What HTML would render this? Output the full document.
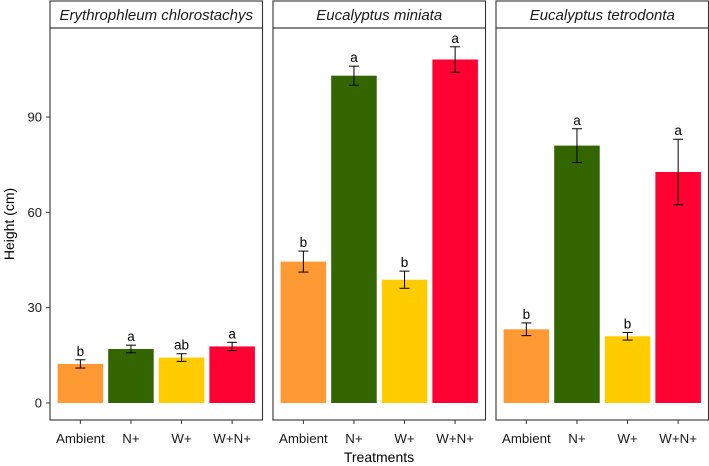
<!DOCTYPE html>
<html><head><meta charset="utf-8">
<style>
html,body{margin:0;padding:0;background:#fff;}
svg{display:block;font-family:"Liberation Sans",Arial,sans-serif;}
</style></head>
<body>
<svg id="chart" width="709" height="466" viewBox="0 0 709 466"></svg>
<script>
const species = ["Erythrophleum chlorostachys","Eucalyptus miniata","Eucalyptus tetrodonta"];
const treatments = ["Ambient","N+","W+","W+N+"];
const colors = ["#FF9933","#336600","#FFCC00","#FF0033"];
const heights = [[12.3,17.0,14.3,17.8],[44.5,103.0,38.8,108.1],[23.2,81.0,21.0,72.7]];
const errors = [[1.3,1.2,1.2,1.3],[3.3,3.0,2.7,4.0],[2.0,5.3,1.2,10.3]];
const letters = [["b","a","ab","a"],["b","a","b","a"],["b","a","b","a"]];
const yTicks = [0,30,60,90];

const NS="http://www.w3.org/2000/svg";
const svg=document.getElementById('chart');
function mk(tag,attrs,parent){const e=document.createElementNS(NS,tag);for(const k in attrs)e.setAttribute(k,attrs[k]);(parent||svg).appendChild(e);return e;}
const panelLefts=[50,273,496], panelW=212.5, plotTop=28, plotBot=420, stripTop=1;
const y0=403, pxPerUnit=(403-117)/90;
function yScale(v){return y0-v*pxPerUnit;}
function xScale(p,i){const u=panelW/4.2;return panelLefts[p]+(0.6+i)*u;}
const barW=0.9*panelW/4.2;

species.forEach((sp,p)=>{
  const L=panelLefts[p];
  const g=mk('g',{});
  
  
  const strip=mk('rect',{x:L,y:stripTop,width:panelW,height:plotTop-stripTop,fill:'#fff',stroke:'#333','stroke-width':1.1},g);
  
  
  const st=mk('text',{x:L+panelW/2,y:20,'text-anchor':'middle','font-size':15,'font-style':'italic',fill:'#1a1a1a'},g);
  st.textContent=sp;
  
  
  treatments.forEach((t,i)=>{
    const cx=xScale(p,i), v=heights[p][i], e=errors[p][i];
    const b=mk('rect',{x:cx-barW/2,y:yScale(v),width:barW,height:yScale(0)-yScale(v),fill:colors[i]},g);
    
    
    const eg=mk('g',{stroke:'#000','stroke-width':1},g);
    
    
    mk('line',{x1:cx,x2:cx,y1:yScale(v+e),y2:yScale(v-e)},eg);
    mk('line',{x1:cx-5,x2:cx+5,y1:yScale(v+e),y2:yScale(v+e)},eg);
    mk('line',{x1:cx-5,x2:cx+5,y1:yScale(v-e),y2:yScale(v-e)},eg);
    const lt=mk('text',{x:cx,y:yScale(v+e)-4,'text-anchor':'middle','font-size':13.5,fill:'#000'},g);
    lt.textContent=letters[p][i];
    
    
    mk('line',{x1:cx,x2:cx,y1:plotBot,y2:plotBot+4,stroke:'#333','stroke-width':1},g);
    const xt=mk('text',{x:cx,y:443,'text-anchor':'middle','font-size':13.3,fill:'#1a1a1a'},g);
    xt.textContent=t;
    
    
  });
  const fr=mk('rect',{x:L,y:plotTop,width:panelW,height:plotBot-plotTop,fill:'none',stroke:'#333','stroke-width':1.1},g);
  
  
});
yTicks.forEach(v=>{
  mk('line',{x1:46,x2:50,y1:yScale(v),y2:yScale(v),stroke:'#333','stroke-width':1});
  const t=mk('text',{x:42,y:yScale(v)+4.5,'text-anchor':'end','font-size':13,fill:'#1a1a1a'});
  t.textContent=v;
  
  
});
const yt=mk('text',{x:0,y:0,transform:'translate(14,224) rotate(-90)','text-anchor':'middle','font-size':14,fill:'#000'});
yt.textContent='Height (cm)';


const xtl=mk('text',{x:379,y:462,'text-anchor':'middle','font-size':14,fill:'#000'});
xtl.textContent='Treatments';


</script>
</body></html>
